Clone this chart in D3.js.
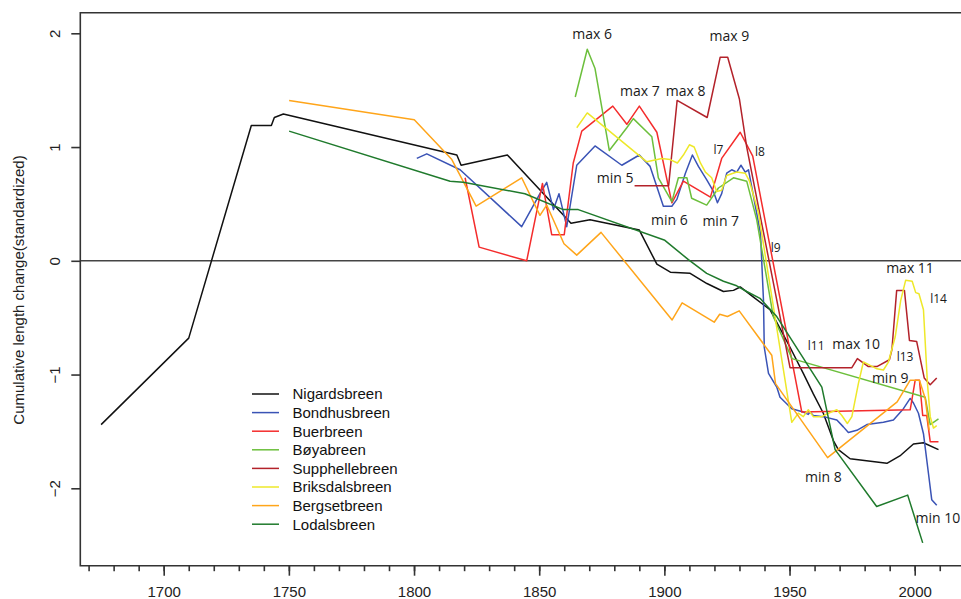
<!DOCTYPE html>
<html><head><meta charset="utf-8">
<script src="https://cdn.jsdelivr.net/npm/d3@7"></script>
<style>
body{margin:0;background:#fff}
svg{display:block}
</style>
</head><body>
<svg id="chart" width="961" height="599"></svg>
<script>
// ---------- DATA ----------
const seriesNames = ["Nigardsbreen","Bondhusbreen","Buerbreen","Bøyabreen","Supphellebreen","Briksdalsbreen","Bergsetbreen","Lodalsbreen"];

const nigardsbreen = [[1675,-1.44],[1710,-0.68],[1735,1.19],[1743,1.19],[1744.2,1.26],[1747.8,1.29],[1817.1,0.93],[1818.8,0.84],[1837.3,0.93],[1862.7,0.33],[1870.3,0.36],[1890,0.27],[1897,-0.03],[1902.4,-0.10],[1910.3,-0.11],[1917,-0.20],[1923.6,-0.27],[1927.6,-0.26],[1930.3,-0.23],[1935.6,-0.32],[1942.2,-0.43],[1950.2,-0.76],[1955.5,-0.99],[1959.5,-1.17],[1963.5,-1.34],[1967.5,-1.58],[1969.5,-1.66],[1974.2,-1.74],[1988.9,-1.78],[1994.4,-1.71],[1999.5,-1.61],[2003.5,-1.60],[2009.5,-1.66]];

const bondhusbreen = [[1801.1,0.90],[1805.1,0.94],[1818.4,0.80],[1843,0.30],[1850.3,0.59],[1853,0.69],[1855.7,0.45],[1857.9,0.59],[1861,0.30],[1865,0.84],[1872.3,1.01],[1883,0.84],[1890,0.93],[1894.3,0.83],[1899.6,0.48],[1903,0.48],[1905,0.54],[1908.4,0.77],[1911.2,0.93],[1913.6,0.83],[1917,0.71],[1919.6,0.61],[1921.2,0.51],[1922.9,0.59],[1924.9,0.77],[1926.9,0.80],[1928.9,0.78],[1930.6,0.84],[1932.3,0.78],[1933.6,0.80],[1934.9,0.65],[1938.4,0.24],[1939.6,-0.35],[1939.9,-0.76],[1941.6,-0.99],[1944.9,-1.11],[1946.2,-1.20],[1950.9,-1.30],[1955.5,-1.33],[1957.5,-1.35],[1958.2,-1.33],[1959.5,-1.36],[1963.5,-1.37],[1968.9,-1.40],[1971.5,-1.46],[1973.5,-1.51],[1976.9,-1.49],[1980.9,-1.44],[1987.5,-1.42],[1991.5,-1.40],[1995.5,-1.30],[1998.2,-1.21],[1999.5,-1.25],[2001.5,-1.34],[2003.5,-1.52],[2005.5,-1.87],[2006.8,-2.10],[2008.8,-2.15]];

const buerbreen = [[1820.4,0.73],[1826,0.12],[1845,0.00],[1851.3,0.68],[1855,0.23],[1860,0.23],[1863.6,0.86],[1867,1.14],[1879.4,1.36],[1885,1.20],[1890,1.36],[1897,1.13],[1903,0.51],[1907.6,0.70],[1918.4,0.56],[1922.9,0.90],[1930.3,1.13],[1935.3,0.92],[1954.9,-1.33],[1998.2,-1.31],[2000.2,-1.05],[2001.9,-1.05],[2003.2,-1.36],[2004.8,-1.36],[2006.2,-1.59],[2009.5,-1.59]];

const boyabreen = [[1864.4,1.44],[1869.2,1.86],[1872.3,1.69],[1878,0.97],[1885,1.17],[1887.6,1.25],[1895,1.09],[1897.6,0.73],[1903,0.52],[1905.6,0.73],[1909,0.73],[1910.9,0.55],[1916.9,0.49],[1921.6,0.64],[1927.6,0.73],[1932.9,0.70],[1936.9,0.36],[1943.5,-0.49],[1951,-0.86],[2004.2,-1.20],[2006.2,-1.44],[2009.5,-1.39]];

const supphellebreen = [[1888.1,0.66],[1901.7,0.66],[1905.1,1.41],[1917.1,1.26],[1922.3,1.79],[1925.3,1.79],[1930,1.42],[1932.9,1.00],[1950.2,-0.94],[1974.9,-0.94],[1977.1,-0.86],[1981.5,-0.93],[1984.9,-0.93],[1989.9,-0.87],[1990.9,-0.78],[1992.8,-0.26],[1995.9,-0.26],[1997.9,-0.70],[2000.8,-0.71],[2003.8,-1.03],[2006.2,-1.09],[2008.8,-1.03]];

const briksdalsbreen = [[1865,1.17],[1869.2,1.30],[1893,0.87],[1899,0.90],[1902.3,0.89],[1905.2,0.86],[1907.6,0.93],[1910,1.02],[1911.9,1.00],[1914.4,0.86],[1916.4,0.78],[1918.9,0.73],[1920.9,0.61],[1922.9,0.62],[1924.9,0.75],[1928.9,0.78],[1932.3,0.77],[1934,0.70],[1937.6,0.42],[1950.9,-1.42],[1953.5,-1.34],[1955.5,-1.37],[1957.5,-1.31],[1959.5,-1.37],[1962.9,-1.37],[1965.5,-1.34],[1968.9,-1.31],[1970.9,-1.36],[1973.1,-1.43],[1974.9,-1.37],[1977.5,-1.08],[1979.5,-0.89],[1982.2,-0.92],[1984.9,-0.95],[1987.5,-0.96],[1989.5,-0.89],[1992.2,-0.67],[1994.4,-0.35],[1996.4,-0.17],[1999,-0.18],[2000.4,-0.28],[2001.7,-0.29],[2003.5,-0.43],[2005.1,-1.08],[2006.2,-1.37],[2007.5,-1.47],[2008.8,-1.45]];

const bergsetbreen = [[1750.1,1.41],[1800.1,1.24],[1815.1,0.89],[1824.8,0.48],[1843,0.73],[1850.3,0.40],[1853,0.49],[1859.9,0.15],[1865,0.05],[1874.7,0.25],[1903.1,-0.52],[1907.1,-0.37],[1919.9,-0.54],[1922.1,-0.47],[1925.2,-0.49],[1929.9,-0.44],[1942.9,-0.83],[1944.4,-1.08],[1965.2,-1.73],[1993,-1.24],[1998.2,-1.05],[2001.9,-1.05],[2004.2,-1.21],[2005.8,-1.49]];

const lodalsbreen = [[1750.1,1.14],[1814.4,0.70],[1819.7,0.69],[1844.3,0.59],[1859.6,0.45],[1865.6,0.45],[1900.2,0.18],[1909.6,0.01],[1916.9,-0.11],[1923.6,-0.18],[1928.9,-0.22],[1932.9,-0.27],[1938.2,-0.33],[1944.9,-0.49],[1962.9,-1.11],[1968.2,-1.66],[1984.8,-2.16],[1997.2,-2.06],[2003.2,-2.48]];

const seriesData = [nigardsbreen, bondhusbreen, buerbreen, boyabreen, supphellebreen, briksdalsbreen, bergsetbreen, lodalsbreen];

const yTickValues = [-2,-1,0,1,2];
const xMajorTicks = [1700,1750,1800,1850,1900,1950,2000];
const xMinorTicks = d3.range(1670, 2011, 10);

// annotation labels: text, year, value
const annotationTexts  = ["max 6","max 7","max 8","max 9","min 5","min 6","min 7","l7","l8","l9","l11","max 10","l13","max 11","l14","min 9","min 8","min 10"];
const annotationYears  = [1863.2,1882.3,1900.6,1918.0,1873.0,1894.7,1915.2,1919.6,1936.2,1942.5,1957.3,1967.1,1992.8,1988.6,2006.2,1982.9,1956.2,2000.3];
const annotationValues = [1.95,1.453,1.453,1.932,0.684,0.315,0.31,0.943,0.921,0.077,-0.784,-0.773,-0.878,-0.107,-0.374,-1.074,-1.942,-2.305];

// ---------- STYLE / LAYOUT ----------
const colors = ["#111111","#3a53b5","#f42c2c","#6cbf3c","#b3222a","#eee82a","#ffa51a","#1f7a2c"];
const svg = d3.select("#chart");
const boxLeft = 80.3, boxTop = 12.7, boxBottom = 565.7, boxRight = 990;
const axisColor = "#333";

const x = d3.scaleLinear().domain([1700, 2000]).range([163.7, 914.7]);
const y = d3.scaleLinear().domain([-2, 2]).range([488.3, 33.3]);

// zero line
svg.append("line")
  .attr("x1", boxLeft).attr("x2", boxRight)
  .attr("y1", y(0)).attr("y2", y(0))
  .attr("stroke", "#444").attr("stroke-width", 1.6);

// series
const line = d3.line().x(d => x(d[0])).y(d => y(d[1]));
seriesData.forEach((s, i) => {
  svg.append("path").datum(s)
    .attr("d", line)
    .attr("fill", "none")
    .attr("stroke", colors[i])
    .attr("stroke-width", 1.5)
    .attr("stroke-linejoin", "round");
});

// box (left, top, bottom)
svg.append("path")
  .attr("d", `M${boxRight},${boxTop}H${boxLeft}V${boxBottom}H${boxRight}`)
  .attr("fill", "none").attr("stroke", axisColor).attr("stroke-width", 1.6);

// y axis
const gy = svg.append("g").attr("transform", `translate(${boxLeft},0)`)
  .call(d3.axisLeft(y).tickValues(yTickValues).tickSize(9)
    .tickFormat(d => d < 0 ? "\u2212" + Math.abs(d) : String(d)));
gy.select(".domain").remove();
gy.selectAll(".tick line").attr("stroke", axisColor).attr("stroke-width", 1.6);
gy.selectAll(".tick text")
  .attr("transform", "rotate(-90)")
  .attr("x", 0).attr("y", -20).attr("dy", 0)
  .attr("text-anchor", "middle")
  .attr("fill", "#222")
  .style("font-family", "'Liberation Sans', Arial, sans-serif")
  .style("font-size", "15px");

// x axis minor
const gxm = svg.append("g").attr("transform", `translate(0,${boxBottom})`)
  .call(d3.axisBottom(x).tickValues(xMinorTicks).tickSize(5.5).tickFormat(""));
gxm.select(".domain").remove();
gxm.selectAll(".tick line").attr("stroke", axisColor).attr("stroke-width", 1.6);

// x axis major
const gx = svg.append("g").attr("transform", `translate(0,${boxBottom})`)
  .call(d3.axisBottom(x).tickValues(xMajorTicks).tickSize(10).tickFormat(d3.format("d")));
gx.select(".domain").remove();
gx.selectAll(".tick line").attr("stroke", axisColor).attr("stroke-width", 1.6);
gx.selectAll(".tick text")
  .attr("y", 31.5).attr("dy", 0)
  .attr("fill", "#222")
  .style("font-family", "'Liberation Sans', Arial, sans-serif")
  .style("font-size", "15px");

// y axis title
svg.append("text")
  .attr("transform", "translate(23.5,290) rotate(-90)")
  .attr("text-anchor", "middle")
  .attr("fill", "#222")
  .style("font-family", "'Liberation Sans', Arial, sans-serif")
  .style("font-size", "15px")
  .text("Cumulative length change(standardized)");

// legend
const legend = svg.append("g");
seriesNames.forEach((name, i) => {
  const ly = 394 + i * 18.6;
  legend.append("line")
    .attr("x1", 252).attr("x2", 279).attr("y1", ly).attr("y2", ly)
    .attr("stroke", colors[i]).attr("stroke-width", 1.5);
  legend.append("text")
    .attr("x", 292.5).attr("y", ly + 5.3)
    .attr("fill", "#111")
    .style("font-family", "'Liberation Sans', Arial, sans-serif")
    .style("font-size", "15px")
    .text(name);
});

// annotations
annotationTexts.forEach((t, i) => {
  const small = t.startsWith("l");
  svg.append("text")
    .attr("x", x(annotationYears[i]))
    .attr("y", y(annotationValues[i]))
    .attr("fill", "#1a1a1a")
    .style("font-family", "'Open Sans', 'Noto Sans', sans-serif")
    .style("font-size", small ? "12px" : "14px")
    .text(t);
});
</script>
</body></html>
